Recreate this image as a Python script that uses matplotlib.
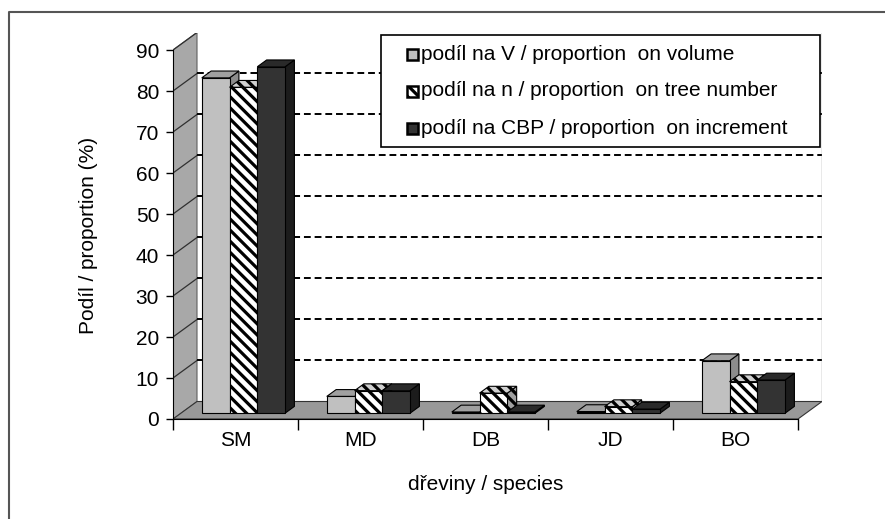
import matplotlib
matplotlib.use("Agg")
import matplotlib.pyplot as plt
from matplotlib.patches import Rectangle, Polygon

plt.rcParams['font.family'] = ['Liberation Sans', 'DejaVu Sans']
plt.rcParams['hatch.linewidth'] = 2.3

# data
species = ['SM', 'MD', 'DB', 'JD', 'BO']
share_volume = [81.8, 4.1, 0.3, 0.4, 12.8]
share_number = [79.5, 5.5, 4.9, 1.6, 7.7]
share_increment = [84.5, 5.5, 0.3, 1.0, 8.1]
labels = ['podíl na V / proportion  on volume',
          'podíl na n / proportion  on tree number',
          'podíl na CBP / proportion  on increment']
yticks = list(range(0, 100, 10))

series = [share_volume, share_number, share_increment]
# (front, top, side, hatch)
styles = [('#c0c0c0', '#a0a0a0', '#8c8c8c', None),
          ('white', '#d0d0d0', '#a0a0a0', '\\\\\\'),
          ('#333333', '#2a2a2a', '#1c1c1c', None)]

W, H = 885, 519
fs = 15
fig = plt.figure(figsize=(W / 100, H / 100), dpi=100)

# depth of the 3d box (in data units)
dx, dy = 0.192, 4.27
ymax = 90
n = len(species)

ax = fig.add_axes([173 / W, 1 - 419 / H, 649 / W, 386.5 / H])
ax.set_xlim(0, n + dx)
ax.set_ylim(0, ymax + dy)
ax.patch.set_visible(False)

# left wall
ax.add_patch(Polygon([(0, 0), (dx, dy), (dx, ymax + dy), (0, ymax)],
                     closed=True, fc='#a8a8a8', ec='#606060', lw=0.8, zorder=1))
for v in yticks[1:]:
    ax.plot([0, dx], [v, v + dy], color='#303030', lw=0.9, zorder=2)

# back wall gridlines
for v in yticks[1:]:
    ax.plot([dx, n + dx], [v + dy, v + dy], color='black', lw=1.4,
            ls=(0, (3.5, 2)), zorder=2)
ax.plot([n + dx, n + dx], [dy, ymax + dy], color='#909090', lw=1, zorder=2)

# floor
ax.add_patch(Polygon([(0, 0), (n, 0), (n + dx, dy), (dx, dy)], closed=True,
                     fc='#999999', ec='#333333', lw=0.8, zorder=3))

# bars
w = 0.222
tf, tb = 0.33, 0.72
ddx, ddy = (tb - tf) * dx, (tb - tf) * dy
for i in range(n):
    for j, vals in enumerate(series):
        front, top, side, hatch = styles[j]
        v = vals[i]
        x0 = i + 0.5 - 1.5 * w + j * w + tf * dx
        y0 = tf * dy
        z = 4 + i * 3 + j
        ax.add_patch(Polygon([(x0 + w, y0), (x0 + w + ddx, y0 + ddy),
                              (x0 + w + ddx, y0 + v + ddy), (x0 + w, y0 + v)],
                             closed=True, fc=side, ec='black', lw=0.8,
                             hatch=hatch, zorder=z))
        ax.add_patch(Polygon([(x0, y0 + v), (x0 + w, y0 + v),
                              (x0 + w + ddx, y0 + v + ddy), (x0 + ddx, y0 + v + ddy)],
                             closed=True, fc=top, ec='black', lw=0.8,
                             hatch=hatch, zorder=z))
        ax.add_patch(Rectangle((x0, y0), w, v, fc=front, ec='black', lw=0.8,
                               hatch=hatch, zorder=z))

# axes
for s in ['top', 'right']:
    ax.spines[s].set_visible(False)
ax.spines['left'].set_bounds(0, ymax)
ax.spines['bottom'].set_bounds(0, n)
ax.spines['left'].set_zorder(20)
ax.spines['bottom'].set_zorder(20)
ax.set_yticks(yticks)
ax.tick_params(axis='y', direction='out', length=5, width=1, pad=5, labelsize=fs)
ax.set_xticks(range(n + 1))
ax.set_xticklabels([])
ax.tick_params(axis='x', which='major', direction='out', length=8, width=1)
ax.set_xticks([i + 0.5 for i in range(n)], minor=True)
ax.set_xticklabels(species, minor=True)
ax.tick_params(axis='x', which='minor', length=0, pad=9, labelsize=fs)

ax.set_xlabel('dřeviny / species', fontsize=fs)
ax.xaxis.set_label_coords(2.5 / (n + dx), -0.145)
ax.set_ylabel('Podíl / proportion (%)', fontsize=fs)
ax.yaxis.set_label_coords(-0.115, 0.476)

# legend
fig.patches.append(Rectangle((381 / W, 1 - 147 / H), (820 - 381) / W, 112 / H,
                             transform=fig.transFigure, fc='white', ec='black',
                             lw=1.2, zorder=30))
for j, lab in enumerate(labels):
    yc = 54 + 37 * j
    front, top, side, hatch = styles[j]
    fig.patches.append(Rectangle((407 / W, 1 - (yc + 6) / H), 11 / W, 11 / H,
                                 transform=fig.transFigure, fc=front, ec='black',
                                 lw=1.8, hatch=hatch, zorder=31))
    fig.text(421 / W, 1 - yc / H, lab, fontsize=fs, va='center', ha='left',
             zorder=32)

# outer frame (only top and left visible)
fig.lines.append(plt.Line2D([9 / W, 9 / W, 1], [0, 1 - 12 / H, 1 - 12 / H],
                            transform=fig.transFigure, color='#555555', lw=1.5))

fig.savefig('out.png', dpi=100)
